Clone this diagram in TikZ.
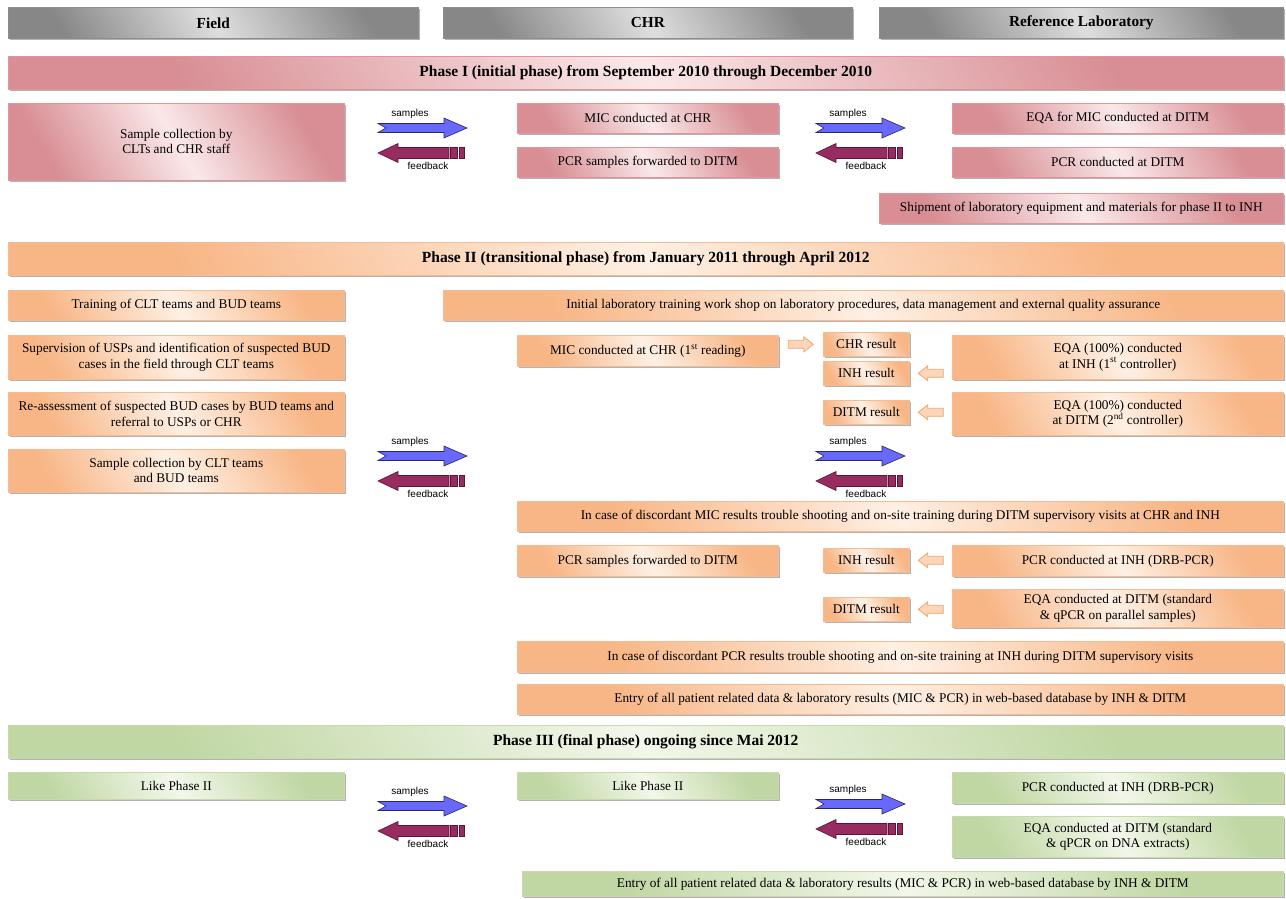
\documentclass[tikz,border=0pt]{standalone}
\usepackage{fontspec}
\setmainfont{Liberation Serif}
\newfontfamily\lsans{Liberation Sans}
\usetikzlibrary{shadows}
\definecolor{grayD}{RGB}{135,135,135}
\definecolor{grayL}{RGB}{222,222,222}
\definecolor{grayB}{RGB}{140,140,140}
\definecolor{pinkD}{RGB}{216,142,148}
\definecolor{pinkL}{RGB}{250,232,233}
\definecolor{pinkB}{RGB}{222,150,155}
\definecolor{oraD}{RGB}{248,182,134}
\definecolor{oraL}{RGB}{254,240,228}
\definecolor{oraB}{RGB}{244,188,148}
\definecolor{grnD}{RGB}{192,215,163}
\definecolor{grnL}{RGB}{242,247,234}
\definecolor{grnB}{RGB}{198,218,172}
\definecolor{blueF}{RGB}{104,104,252}
\definecolor{blueO}{RGB}{40,40,95}
\definecolor{purF}{RGB}{150,44,96}
\definecolor{purO}{RGB}{90,20,55}
\definecolor{saF}{RGB}{252,214,186}
\definecolor{saO}{RGB}{240,165,110}
\tikzset{
  bx/.style={rectangle, inner sep=2pt, align=center, anchor=north west, line width=0.6pt,
    drop shadow={shadow xshift=1.3pt, shadow yshift=-1.6pt, opacity=0.3, fill=black},
    font=\fontsize{13.3}{15.2}\selectfont},
  gr/.style={bx, draw=grayB, top color=grayD, bottom color=grayD, middle color=grayL, shading angle=-60, font=\fontsize{15.3}{17}\selectfont\bfseries},
  pk/.style={bx, draw=pinkB, top color=pinkD, bottom color=pinkD, middle color=pinkL, shading angle=-60},
  og/.style={bx, draw=oraB, top color=oraD, bottom color=oraD, middle color=oraL, shading angle=-60},
  gn/.style={bx, draw=grnB, top color=grnD, bottom color=grnD, middle color=grnL, shading angle=-60},
  ph/.style={font=\fontsize{15.5}{17}\selectfont\bfseries},
  lab/.style={inner sep=0pt, font=\lsans\fontsize{10}{12}\selectfont},
  flow/.pic={
    \draw[fill=blueF, draw=blueO, line width=0.6pt] (0,-4.5) -- (66,-4.5) -- (66,-10) -- (89,0) -- (66,10) -- (66,4.5) -- (0,4.5) -- (8,0) -- cycle;
    \draw[fill=purF, draw=purO, line width=0.6pt] (0,25) -- (20,15.5) -- (20,19.5) -- (71,19.5) -- (71,30.5) -- (20,30.5) -- (20,34.5) -- cycle;
    \draw[fill=purF, draw=purO, line width=0.6pt] (72.5,19.5) rectangle (79.5,30.5);
    \draw[fill=purF, draw=purO, line width=0.6pt] (81.5,19.5) rectangle (86.5,30.5);
    \node[lab] (-s) at (32,-14) {samples};
    \node[lab] (-f) at (50,38) {feedback};
  },
  sarr/.pic={
    \draw[fill=saF, draw=saO, line width=0.8pt] (-12.5,-4) -- (3,-4) -- (3,-7.5) -- (12.5,0) -- (3,7.5) -- (3,4) -- (-12.5,4) -- cycle;
  }
}
\begin{document}
\begin{tikzpicture}[x=1pt,y=-1pt]
\useasboundingbox (0,0) rectangle (1286,898);
% headers
\node[gr, minimum width=410pt, minimum height=31pt] (hF) at (8,7) {Field};
\node[gr, minimum width=409pt, minimum height=31pt] (hC) at (443,7) {CHR};
\node[gr, minimum width=404pt, minimum height=31pt] (hR) at (879,7) {Reference Laboratory};
% Phase I
\node[pk, ph, minimum width=1275pt, minimum height=33pt] (p1) at (8,56) {Phase I (initial phase) from September 2010 through December 2010};
\node[pk, minimum width=336pt, minimum height=77pt] (s1) at (8,103) {Sample collection by\\CLTs and CHR staff};
\node[pk, minimum width=261pt, minimum height=30pt] (m1) at (517,103) {MIC conducted at CHR};
\node[pk, minimum width=261pt, minimum height=30pt] (pc1) at (517,147) {PCR samples forwarded to DITM};
\node[pk, minimum width=331pt, minimum height=30pt] (e1) at (952,103) {EQA for MIC conducted at DITM};
\node[pk, minimum width=331pt, minimum height=30pt] (d1) at (952,147) {PCR conducted at DITM};
\node[pk, minimum width=404pt, minimum height=30pt] (sh1) at (879,193) {Shipment of laboratory equipment and materials for phase II to INH};
\pic (g1) at (378,128) {flow};
\pic (g2) at (816,128) {flow};
% Phase II
\node[og, ph, minimum width=1275pt, minimum height=33pt] (p2) at (8,242) {Phase II (transitional phase) from January 2011 through April 2012};
\node[og, minimum width=336pt, minimum height=30pt] (t2) at (8,290) {Training of CLT teams and BUD teams};
\node[og, minimum width=840pt, minimum height=30pt] (il2) at (443,290) {Initial laboratory training work shop on laboratory procedures, data management and external quality assurance};
\node[og, minimum width=336pt, minimum height=44pt] (sv2) at (8,335) {Supervision of USPs and identification of suspected BUD\\cases in the field through CLT teams};
\node[og, minimum width=261pt, minimum height=31pt] (mic2) at (517,335) {MIC conducted at CHR (1\textsuperscript{st} reading)};
\node[og, minimum width=86pt, minimum height=24pt] (chrr) at (823,332) {CHR result};
\node[og, minimum width=86pt, minimum height=24pt] (inhr) at (823,361) {INH result};
\node[og, minimum width=331pt, minimum height=44pt] (eqi) at (952,335) {EQA (100\%) conducted\\at INH (1\textsuperscript{st} controller)};
\node[og, minimum width=336pt, minimum height=43pt] (ra2) at (8,392) {Re-assessment of suspected BUD cases by BUD teams and\\referral to USPs or CHR};
\node[og, minimum width=86pt, minimum height=24pt] (ditr) at (823,400) {DITM result};
\node[og, minimum width=331pt, minimum height=43pt] (eqd) at (952,392) {EQA (100\%) conducted\\at DITM (2\textsuperscript{nd} controller)};
\node[og, minimum width=336pt, minimum height=43pt] (sc2) at (8,449) {Sample collection by CLT teams\\and BUD teams};
\pic (g3) at (378,456) {flow};
\pic (g4) at (816,456) {flow};
\node[og, minimum width=766pt, minimum height=30pt] (dm2) at (517,501) {In case of discordant MIC results trouble shooting and on-site training during DITM supervisory visits at CHR and INH};
\node[og, minimum width=261pt, minimum height=31pt] (pf2) at (517,545) {PCR samples forwarded to DITM};
\node[og, minimum width=86pt, minimum height=24pt] (inhr2) at (823,548) {INH result};
\node[og, minimum width=331pt, minimum height=31pt] (pci2) at (952,545) {PCR conducted at INH (DRB-PCR)};
\node[og, minimum width=86pt, minimum height=24pt] (ditr2) at (823,597) {DITM result};
\node[og, minimum width=331pt, minimum height=38pt] (eqs2) at (952,589) {EQA conducted at DITM (standard\\\& qPCR on parallel samples)};
\node[og, minimum width=766pt, minimum height=31pt] (dp2) at (517,641) {In case of discordant PCR results trouble shooting and on-site training at INH during DITM supervisory visits};
\node[og, minimum width=766pt, minimum height=30pt] (en2) at (517,684) {Entry of all patient related data \& laboratory results (MIC \& PCR) in web-based database by INH \& DITM};
% small arrows
\path (mic2.east |- chrr.west) -- (chrr.west) coordinate[midway] (a1);
\pic at (a1) {sarr};
\path (inhr.east) -- (inhr.east -| eqi.west) coordinate[midway] (a2);
\pic[rotate=180] at (a2) {sarr};
\path (ditr.east) -- (ditr.east -| eqd.west) coordinate[midway] (a3);
\pic[rotate=180] at (a3) {sarr};
\path (inhr2.east) -- (inhr2.east -| pci2.west) coordinate[midway] (a4);
\pic[rotate=180] at (a4) {sarr};
\path (ditr2.east) -- (ditr2.east -| eqs2.west) coordinate[midway] (a5);
\pic[rotate=180] at (a5) {sarr};
% Phase III
\node[gn, ph, minimum width=1275pt, minimum height=33pt] (p3) at (8,725) {Phase III (final phase) ongoing since Mai 2012};
\node[gn, minimum width=336pt, minimum height=27pt] (lf3) at (8,772) {Like Phase II};
\node[gn, minimum width=261pt, minimum height=27pt] (lc3) at (517,772) {Like Phase II};
\node[gn, minimum width=331pt, minimum height=31pt] (pci3) at (952,772) {PCR conducted at INH (DRB-PCR)};
\node[gn, minimum width=331pt, minimum height=41pt] (eq3) at (952,816) {EQA conducted at DITM (standard\\\& qPCR on DNA extracts)};
\node[gn, minimum width=761pt, minimum height=25pt] (en3) at (522,871) {Entry of all patient related data \& laboratory results (MIC \& PCR) in web-based database by INH \& DITM};
\pic (g5) at (378,806) {flow};
\pic (g6) at (816,804) {flow};
\end{tikzpicture}
\end{document}
